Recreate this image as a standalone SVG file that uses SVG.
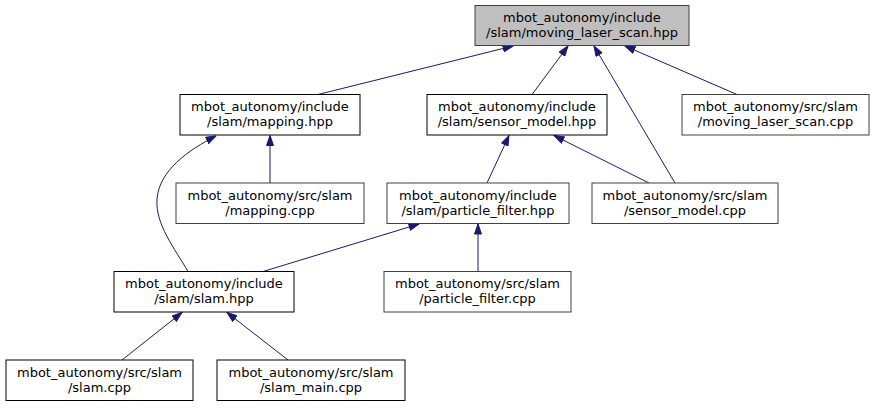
<svg xmlns="http://www.w3.org/2000/svg" width="877" height="409" viewBox="0 0 877 409">
<defs>
<marker id="ah" viewBox="0 0 11 8" refX="10.5" refY="4" markerWidth="11" markerHeight="8" markerUnits="userSpaceOnUse" orient="auto">
<path d="M0.5,0.5 L10.5,4 L0.5,7.5 z" fill="#191970" stroke="#191970" stroke-width="1"/>
</marker>
<style>
.box{fill:#ffffff;stroke:#000000;stroke-width:1}
.box2{fill:#ffffff;stroke:#404040;stroke-width:1}
.root{fill:#bfbfbf;stroke:#404040;stroke-width:1}
text{font-family:"DejaVu Sans","Liberation Sans",sans-serif;font-size:13px;fill:#000;text-anchor:middle}
.e{fill:none;stroke:#191970;stroke-width:1;marker-end:url(#ah)}
</style>
</defs>
<rect width="877" height="409" fill="#ffffff"/>
<g id="connectors">
<path class="e" d="M318,94.5 L513,46"/>
<path class="e" d="M532,94.5 L568,46"/>
<path class="e" d="M675,183 L594,46"/>
<path class="e" d="M737,94.5 L625,46"/>
<path class="e" d="M188,271.5 C175,249 155,224 157,199 C159,171 188,150 216,136"/>
<path class="e" d="M270,183 L270,135.5"/>
<path class="e" d="M487,183 L509,135.5"/>
<path class="e" d="M649,183 L554,135.5"/>
<path class="e" d="M263,271.5 L419,224"/>
<path class="e" d="M478,271.5 L478,224"/>
<path class="e" d="M122,360 L182,312.5"/>
<path class="e" d="M288,360 L227,312.5"/>
</g>
<g id="n_root">
<rect class="root" x="475" y="5.5" width="214" height="40"/>
<text x="582" y="22">mbot_autonomy/include</text>
<text x="582" y="37">/slam/moving_laser_scan.hpp</text>
</g>
<g id="n_mapping_hpp">
<rect class="box" x="180" y="94.5" width="180" height="40.5"/>
<text x="270" y="111">mbot_autonomy/include</text>
<text x="270" y="126">/slam/mapping.hpp</text>
</g>
<g id="n_sensor_model_hpp">
<rect class="box" x="427" y="94.5" width="180" height="40.5"/>
<text x="517" y="111">mbot_autonomy/include</text>
<text x="517" y="126">/slam/sensor_model.hpp</text>
</g>
<g id="n_moving_laser_scan_cpp">
<rect class="box2" x="682" y="94.5" width="187" height="40.5"/>
<text x="775.5" y="111">mbot_autonomy/src/slam</text>
<text x="775.5" y="126">/moving_laser_scan.cpp</text>
</g>
<g id="n_mapping_cpp">
<rect class="box2" x="176" y="183" width="188" height="40.5"/>
<text x="270" y="199.5">mbot_autonomy/src/slam</text>
<text x="270" y="214.5">/mapping.cpp</text>
</g>
<g id="n_particle_filter_hpp">
<rect class="box2" x="387" y="183" width="182" height="40.5"/>
<text x="478" y="199.5">mbot_autonomy/include</text>
<text x="478" y="214.5">/slam/particle_filter.hpp</text>
</g>
<g id="n_sensor_model_cpp">
<rect class="box2" x="592" y="183" width="186" height="40.5"/>
<text x="685" y="199.5">mbot_autonomy/src/slam</text>
<text x="685" y="214.5">/sensor_model.cpp</text>
</g>
<g id="n_slam_hpp">
<rect class="box" x="114" y="271.5" width="180" height="40.5"/>
<text x="204" y="288">mbot_autonomy/include</text>
<text x="204" y="303">/slam/slam.hpp</text>
</g>
<g id="n_particle_filter_cpp">
<rect class="box2" x="384" y="271.5" width="187" height="40.5"/>
<text x="477.5" y="288">mbot_autonomy/src/slam</text>
<text x="477.5" y="303">/particle_filter.cpp</text>
</g>
<g id="n_slam_cpp">
<rect class="box" x="6" y="360" width="187" height="40.5"/>
<text x="99.5" y="376.5">mbot_autonomy/src/slam</text>
<text x="99.5" y="391.5">/slam.cpp</text>
</g>
<g id="n_slam_main_cpp">
<rect class="box" x="217" y="360" width="188" height="40.5"/>
<text x="311" y="376.5">mbot_autonomy/src/slam</text>
<text x="311" y="391.5">/slam_main.cpp</text>
</g>
</svg>
